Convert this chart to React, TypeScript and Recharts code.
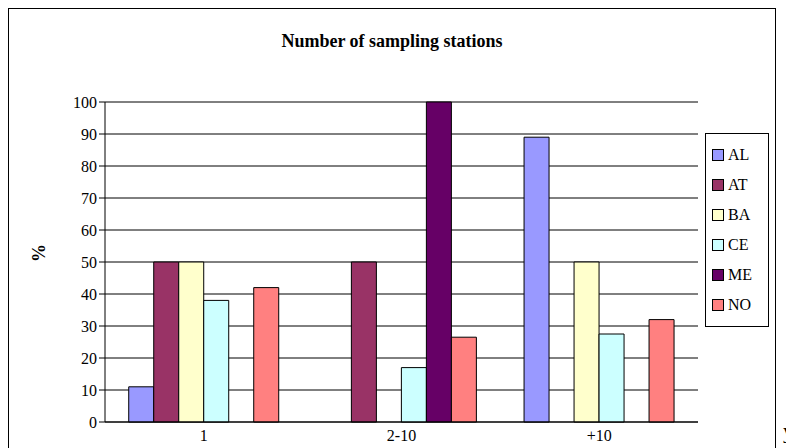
import React from "react"
import { BarChart, Bar, XAxis, YAxis, CartesianGrid, Legend, Label } from "recharts"

const categories = ["1", "2-10", "+10"]
const AL = [11, 0, 89]
const AT = [50, 50, 0]
const BA = [50, 0, 50]
const CE = [38, 17, 27.5]
const ME = [0, 100, 0]
const NO = [42, 26.5, 32]
const yTicks = [0, 10, 20, 30, 40, 50, 60, 70, 80, 90, 100]

const series = [
  { key: "AL", values: AL, color: "#9999FF" },
  { key: "AT", values: AT, color: "#993366" },
  { key: "BA", values: BA, color: "#FFFFCC" },
  { key: "CE", values: CE, color: "#CCFFFF" },
  { key: "ME", values: ME, color: "#660066" },
  { key: "NO", values: NO, color: "#FF8080" },
]

const data = categories.map((c, i) => {
  const row: any = { name: c }
  series.forEach((s) => (row[s.key] = s.values[i]))
  return row
})

const font = "'Liberation Serif', 'Times New Roman', serif"

const LegendBox = () => (
  <div style={{ border: "1px solid black", background: "white", padding: "6px 6px", width: 50, fontFamily: font, fontSize: 16 }}>
    {series.map((s) => (
      <div key={s.key} style={{ display: "flex", alignItems: "center", height: 30 }}>
        <span style={{ width: 10, height: 10, background: s.color, border: "1px solid black", marginRight: 4 }} />
        {s.key}
      </div>
    ))}
  </div>
)

export default function App() {
  return (
    <div style={{ position: "relative", width: 794, height: 440 }}>
      <div style={{ position: "absolute", left: 0, top: 0, width: 768, height: 460, border: "1px solid black", boxSizing: "border-box", overflow: "hidden" }}>
        <div style={{ position: "absolute", top: 22, width: "100%", textAlign: "center", fontFamily: font, fontWeight: "bold", fontSize: 18 }}>
          Number of sampling stations
        </div>
        <BarChart width={768} height={460} data={data} margin={{ top: 93, right: 15, bottom: 17, left: 0 }} barGap={0} barCategoryGap="12%">
          <CartesianGrid vertical={false} stroke="#000" />
          <XAxis dataKey="name" height={30} stroke="#000" tick={{ fill: "#000", fontFamily: font, fontSize: 16 }} tickLine={false} />
          <YAxis width={96} domain={[0, 100]} ticks={yTicks} interval={0} stroke="#000" tick={{ fill: "#000", fontFamily: font, fontSize: 16 }}>
            <Label value="%" angle={-90} position="insideLeft" offset={30} style={{ fontFamily: font, fontWeight: "bold", fontSize: 18, fill: "#000" }} />
          </YAxis>
          <Legend layout="vertical" align="right" verticalAlign="top" content={<LegendBox />} wrapperStyle={{ right: 8, top: 124 }} />
          {series.map((s) => (
            <Bar key={s.key} dataKey={s.key} fill={s.color} stroke="#000" strokeWidth={1} isAnimationActive={false} />
          ))}
        </BarChart>
      </div>
      <div style={{ position: "absolute", left: 775, top: 412, fontFamily: font, fontSize: 22, lineHeight: "22px" }}>y</div>
    </div>
  )
}
